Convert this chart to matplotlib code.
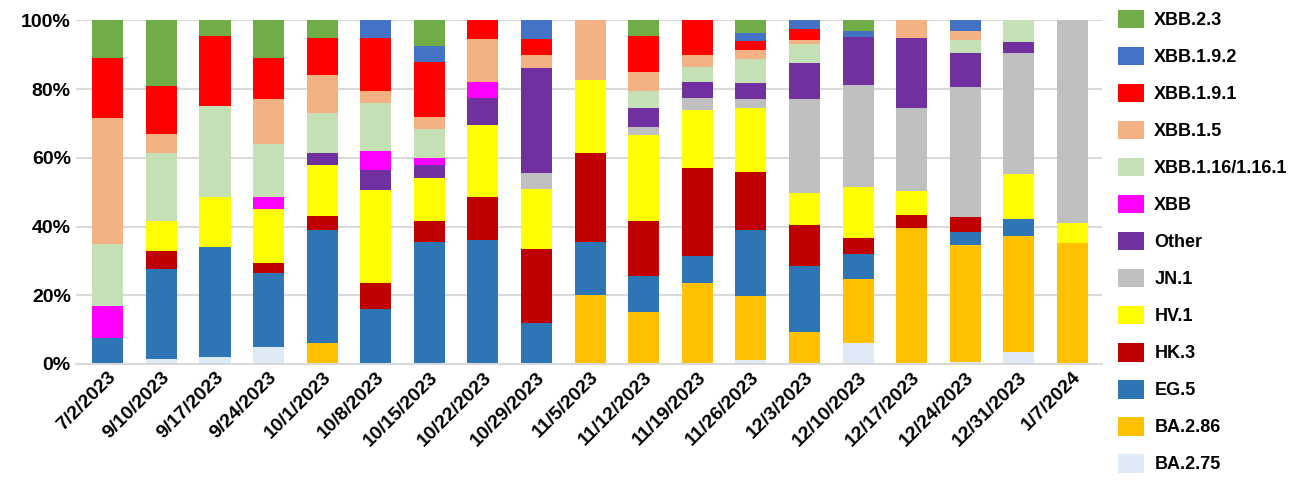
import numpy as np
import matplotlib
matplotlib.use('Agg')
import matplotlib.pyplot as plt
from matplotlib.ticker import PercentFormatter

plt.rcParams['font.family'] = ['Liberation Sans', 'DejaVu Sans']

dates = ['7/2/2023', '9/10/2023', '9/17/2023', '9/24/2023', '10/1/2023', '10/8/2023',
         '10/15/2023', '10/22/2023', '10/29/2023', '11/5/2023', '11/12/2023', '11/19/2023',
         '11/26/2023', '12/3/2023', '12/10/2023', '12/17/2023', '12/24/2023', '12/31/2023',
         '1/7/2024']

variants = ['BA.2.75', 'BA.2.86', 'EG.5', 'HK.3', 'HV.1', 'JN.1', 'Other', 'XBB',
            'XBB.1.16/1.16.1', 'XBB.1.5', 'XBB.1.9.1', 'XBB.1.9.2', 'XBB.2.3']

colors = ['#DEEBF7', '#FFC000', '#2E75B6', '#C00000', '#FFFF00', '#BFBFBF', '#7030A0',
          '#FF00FF', '#C5E0B4', '#F4B183', '#FF0000', '#4472C4', '#70AD47']

# share per week, columns in the order of `variants`
shares = np.array([
    [0, 0, 7.5, 0, 0, 0, 0, 9.5, 18, 36.5, 17.5, 0, 11],
    [1.5, 0, 26, 5.5, 8.5, 0, 0, 0, 20, 5.5, 14, 0, 19],
    [2, 0, 32, 0, 14.5, 0, 0, 0, 26.5, 0, 20.5, 0, 4.5],
    [5, 0, 21.5, 3, 15.5, 0, 0, 3.5, 15.5, 13, 12, 0, 11],
    [0, 6, 33, 4, 15, 0, 3.5, 0, 11.5, 11, 11, 0, 5],
    [0, 0, 16, 7.5, 27, 0, 6, 5.5, 14, 3.5, 15.5, 5, 0],
    [0, 0, 35.5, 6, 12.5, 0, 4, 2, 8.5, 3.5, 16, 4.5, 7.5],
    [0, 0, 36, 12.5, 21, 0, 8, 4.5, 0, 12.5, 5.5, 0, 0],
    [0, 0, 12, 21.5, 17.5, 4.5, 30.5, 0, 0, 4, 4.5, 5.5, 0],
    [0, 20, 15.5, 26, 21, 0, 0, 0, 0, 17.5, 0, 0, 0],
    [0, 15, 10.5, 16, 25, 2.5, 5.5, 0, 5, 5.5, 10.5, 0, 4.5],
    [0, 23.5, 8, 25.5, 17, 3.5, 4.5, 0, 4.5, 3.5, 10, 0, 0],
    [1.2, 18.6, 19.3, 16.8, 18.7, 2.4, 4.9, 0, 6.8, 2.6, 2.6, 2.3, 3.8],
    [0, 9.2, 19.3, 11.8, 9.4, 27.3, 10.5, 0, 5.6, 1.3, 3, 2.6, 0],
    [6.2, 18.6, 7.3, 4.5, 14.9, 29.8, 13.8, 0, 0, 0, 0, 1.8, 3.1],
    [0, 39.7, 0, 3.7, 6.8, 24.3, 20.5, 0, 0, 5, 0, 0, 0],
    [0.7, 34, 3.8, 4.3, 0, 37.8, 10, 0, 3.8, 2.4, 0, 3.2, 0],
    [3.6, 33.6, 4.9, 0, 13.1, 35.4, 3, 0, 6.4, 0, 0, 0, 0],
    [0, 35.3, 0, 0, 5.6, 59.1, 0, 0, 0, 0, 0, 0, 0],
])
shares = shares / shares.sum(axis=1, keepdims=True) * 100

fig = plt.figure(figsize=(13.04, 4.84), dpi=100)
ax = fig.add_axes([0.058, 0.248, 0.787, 0.71])

x = np.arange(len(dates))
bottom = np.zeros(len(dates))
handles = []
for i, name in enumerate(variants):
    h = ax.bar(x, shares[:, i], 0.58, bottom=bottom, color=colors[i], label=name)
    handles.append(h)
    bottom += shares[:, i]

ax.set_ylim(0, 100)
ax.set_xlim(-0.6, len(dates) - 0.45)
ax.yaxis.set_major_formatter(PercentFormatter(decimals=0))
ax.set_yticks(range(0, 101, 20))
ax.grid(axis='y', color='#D9D9D9', linewidth=1.5)
ax.set_axisbelow(True)
for s in ['top', 'right', 'left']:
    ax.spines[s].set_visible(False)
ax.spines['bottom'].set_color('#D9D9D9')
ax.spines['bottom'].set_linewidth(1.5)
ax.tick_params(axis='y', length=0, labelsize=14)
ax.tick_params(axis='x', length=0, labelsize=14)
ax.set_xticks(x)
ax.set_xticklabels(dates, rotation=45, ha='right', rotation_mode='anchor', fontweight='bold')
for t in ax.get_yticklabels():
    t.set_fontweight('bold')

leg = fig.legend(handles[::-1], variants[::-1], loc='upper left', bbox_to_anchor=(0.852, 0.995),
                 frameon=False, handlelength=1.4, handleheight=1.2, handletextpad=0.6,
                 labelspacing=0.98, borderaxespad=0, prop={'weight': 'bold', 'size': 13})

fig.savefig('out.png', dpi=100)
